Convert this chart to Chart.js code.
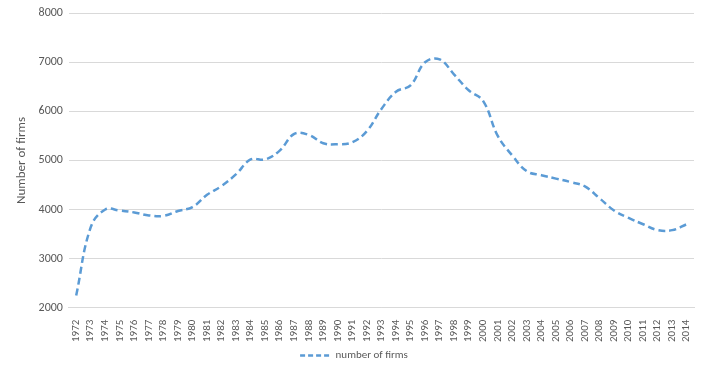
<!DOCTYPE html>
<html>
<head>
<meta charset="utf-8">
<script src="https://cdn.jsdelivr.net/npm/chart.js@4/dist/chart.umd.min.js"></script>
<style>
html,body{margin:0;padding:0;background:#fff;}
#wrap{width:718px;height:371px;position:relative;}
</style>
</head>
<body>
<div id="wrap"><canvas id="c" width="718" height="371"></canvas></div>
<script>
const years = ["1972","1973","1974","1975","1976","1977","1978","1979","1980","1981","1982","1983","1984","1985","1986","1987","1988","1989","1990","1991","1992","1993","1994","1995","1996","1997","1998","1999","2000","2001","2002","2003","2004","2005","2006","2007","2008","2009","2010","2011","2012","2013","2014"];
const numberOfFirms = [2250,3640,4000,3980,3940,3880,3870,3970,4050,4300,4480,4720,5020,5020,5200,5540,5520,5350,5330,5370,5600,6050,6400,6530,7000,7060,6750,6430,6210,5500,5100,4780,4700,4630,4560,4470,4230,3980,3830,3700,3580,3580,3700];
const seriesLabel = "number of firms";
const yTitle = "Number of firms";
const yTicks = [2000,3000,4000,5000,6000,7000,8000];

const FONT = "Carlito, Lato, 'Liberation Sans', sans-serif";
const TXT = "#595959";

const bg = {id:'bg',beforeDraw(ch){const c=ch.ctx;c.save();c.fillStyle='#fff';c.fillRect(0,0,ch.width,ch.height);c.restore();}};

new Chart(document.getElementById('c'), {
  type: 'line',
  data: {
    labels: years,
    datasets: [{
      label: seriesLabel,
      data: numberOfFirms,
      borderColor: '#5B9BD5',
      backgroundColor: '#5B9BD5',
      borderWidth: 2.5,
      borderDash: [7,4],
      borderCapStyle: 'butt',
      pointRadius: 0,
      pointStyle: 'line',
      tension: 0.4,
      fill: false
    }]
  },
  options: {
    responsive: false,
    animation: false,
    layout: {padding: {left: 14, right: 24, top: 8, bottom: 0}},
    plugins: {
      legend: {
        position: 'bottom',
        labels: {
          usePointStyle: true,
          pointStyleWidth: 30,
          color: TXT,
          font: {family: FONT, size: 11},
          padding: 4,
          generateLabels(chart){
            const items = Chart.defaults.plugins.legend.labels.generateLabels(chart);
            items.forEach(it=>{ it.lineDash=[5,3]; it.lineWidth=2.5; it.strokeStyle='#5B9BD5'; });
            return items;
          }
        }
      },
      tooltip: {enabled: false}
    },
    scales: {
      x: {
        offset: true,
        grid: {display: false},
        border: {color: '#D9D9D9'},
        ticks: {
          color: TXT,
          font: {family: FONT, size: 11},
          minRotation: 90, maxRotation: 90,
          autoSkip: false,
          padding: 4
        }
      },
      y: {
        min: 2000, max: 8000,
        afterBuildTicks(ax){ ax.ticks = yTicks.map(v=>({value:v})); },
        grid: {color: '#D9D9D9', drawTicks: false},
        border: {display: false},
        ticks: {color: TXT, font: {family: FONT, size: 12}, padding: 6, callback: v => String(v)},
        title: {display: true, text: yTitle, color: TXT, font: {family: FONT, size: 13}, padding: {top: 0, bottom: 3}}
      }
    }
  },
  plugins: [bg]
});
</script>
</body>
</html>
